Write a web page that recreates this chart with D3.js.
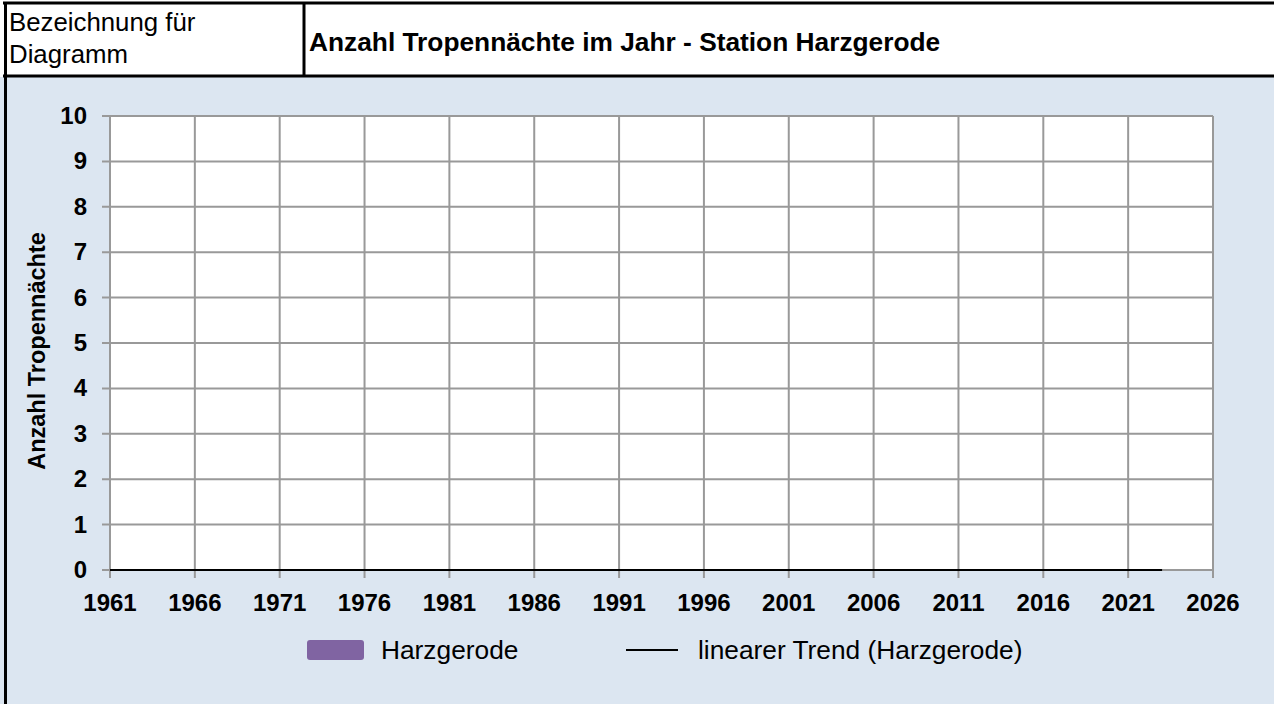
<!DOCTYPE html>
<html>
<head>
<meta charset="utf-8">
<script src="https://d3js.org/d3.v7.min.js"></script>
<style>
body { margin: 0; background: #fff; }
svg { display: block; font-family: "Liberation Sans", Arial, sans-serif; }
</style>
</head>
<body>
<svg id="chart" width="1274" height="704"></svg>
<script>
// Jahre 1961..2023, Anzahl Tropennaechte (alle 0)
var years = [1961,1962,1963,1964,1965,1966,1967,1968,1969,1970,
             1971,1972,1973,1974,1975,1976,1977,1978,1979,1980,
             1981,1982,1983,1984,1985,1986,1987,1988,1989,1990,
             1991,1992,1993,1994,1995,1996,1997,1998,1999,2000,
             2001,2002,2003,2004,2005,2006,2007,2008,2009,2010,
             2011,2012,2013,2014,2015,2016,2017,2018,2019,2020,
             2021,2022,2023]
var nights = [0,0,0,0,0,0,0,0,0,0,
              0,0,0,0,0,0,0,0,0,0,
              0,0,0,0,0,0,0,0,0,0,
              0,0,0,0,0,0,0,0,0,0,
              0,0,0,0,0,0,0,0,0,0,
              0,0,0,0,0,0,0,0,0,0,
              0,0,0]
var xTicks = [1961,1966,1971,1976,1981,1986,1991,1996,2001,2006,2011,2016,2021,2026]
var yTicks = [0,1,2,3,4,5,6,7,8,9,10]
var trend = [{x: 1961, y: 0}, {x: 2023, y: 0}]

var svg = d3.select("#chart")

// Kopfzeile
svg.append("rect").attr("x", 0).attr("y", 77).attr("width", 1274).attr("height", 627).attr("fill", "#dce6f1")
svg.append("rect").attr("x", 6).attr("y", 4).attr("width", 1268).attr("height", 72).attr("fill", "#fff")
svg.append("line").attr("x1", 3).attr("x2", 1274).attr("y1", 3).attr("y2", 3).attr("stroke", "#000").attr("stroke-width", 3)
svg.append("line").attr("x1", 3).attr("x2", 1274).attr("y1", 76).attr("y2", 76).attr("stroke", "#000").attr("stroke-width", 3)
svg.append("line").attr("x1", 5.5).attr("x2", 5.5).attr("y1", 2).attr("y2", 704).attr("stroke", "#000").attr("stroke-width", 3)
svg.append("line").attr("x1", 304).attr("x2", 304).attr("y1", 3).attr("y2", 76).attr("stroke", "#000").attr("stroke-width", 3)

svg.append("text").attr("x", 9).attr("y", 31).text("Bezeichnung für")
   .style("font-size", "25.8px")
svg.append("text").attr("x", 9).attr("y", 63).text("Diagramm")
   .style("font-size", "25.8px")
svg.append("text").attr("x", 309).attr("y", 51).text("Anzahl Tropennächte im Jahr - Station Harzgerode")
   .style("font-size", "26.3px").style("font-weight", "bold")

// Diagramm
var pLeft = 110, pRight = 1213, pTop = 116, pBottom = 570

var x = d3.scaleLinear().domain([1961, 2026]).range([pLeft, pRight])
var y = d3.scaleLinear().domain([0, 10]).range([pBottom, pTop])

svg.append("rect").attr("x", pLeft).attr("y", pTop).attr("width", pRight - pLeft).attr("height", pBottom - pTop).attr("fill", "#fff")

var grid = svg.append("g")
grid.selectAll("line.h").data(yTicks).enter().append("line")
    .attr("x1", pLeft - 8).attr("x2", pRight)
    .attr("y1", function(d) {return y(d);}).attr("y2", function(d) {return y(d);})
    .attr("stroke", "#999").attr("stroke-width", 2)
grid.selectAll("line.v").data(xTicks).enter().append("line")
    .attr("x1", function(d) {return x(d);}).attr("x2", function(d) {return x(d);})
    .attr("y1", pTop).attr("y2", pBottom + 8)
    .attr("stroke", "#999").attr("stroke-width", 2)

// Balken (Harzgerode)
var bw = (x(1962) - x(1961)) * 0.6
svg.append("g").selectAll("rect").data(years).enter().append("rect")
   .attr("x", function(d) {return x(d) - bw / 2;})
   .attr("y", function(d, i) {return y(nights[i]);})
   .attr("width", bw)
   .attr("height", function(d, i) {return y(0) - y(nights[i]);})
   .attr("fill", "#8064a2")

// linearer Trend
svg.append("path").datum(trend)
   .attr("d", d3.line().x(function(d) {return x(d.x);}).y(function(d) {return y(d.y);}))
   .attr("stroke", "#000").attr("stroke-width", 2).attr("fill", "none")

svg.append("g").selectAll("text").data(yTicks).enter().append("text")
   .attr("x", 87).attr("y", function(d) {return y(d) + 8;})
   .attr("text-anchor", "end")
   .style("font-size", "24px").style("font-weight", "bold")
   .text(function(d) {return d;})

svg.append("g").selectAll("text").data(xTicks).enter().append("text")
   .attr("x", function(d) {return x(d);}).attr("y", 611)
   .attr("text-anchor", "middle")
   .style("font-size", "24px").style("font-weight", "bold")
   .text(function(d) {return d;})

svg.append("text")
   .attr("transform", "translate(45,351) rotate(-90)")
   .attr("text-anchor", "middle")
   .style("font-size", "23.5px").style("font-weight", "bold")
   .text("Anzahl Tropennächte")

// Legende
svg.append("rect").attr("x", 307).attr("y", 640).attr("width", 57).attr("height", 20).attr("rx", 3)
   .attr("fill", "#8064a2")
svg.append("text").attr("x", 381).attr("y", 659).text("Harzgerode").style("font-size", "26.3px")
svg.append("line").attr("x1", 626).attr("x2", 678).attr("y1", 650).attr("y2", 650)
   .attr("stroke", "#000").attr("stroke-width", 2)
svg.append("text").attr("x", 698).attr("y", 659).text("linearer Trend (Harzgerode)").style("font-size", "26.3px")
</script>
</body>
</html>
